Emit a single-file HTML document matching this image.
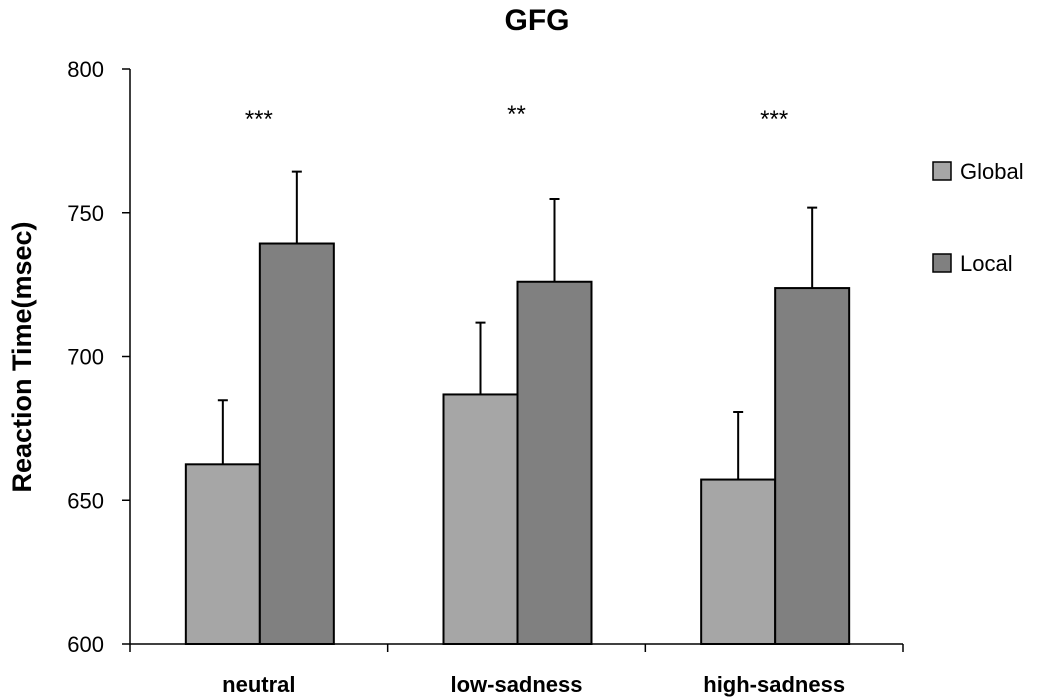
<!DOCTYPE html>
<html><head><meta charset="utf-8"><style>body{margin:0;background:#fff}svg{display:block}text{font-family:"Liberation Sans",sans-serif}</style></head>
<body>
<svg id="chart" width="1037" height="699"></svg>
<script>
const categories = ["neutral","low-sadness","high-sadness"];
const globalVals = [662.5, 686.8, 657.2];
const globalErr = [22.3, 25.0, 23.5];
const localVals = [739.3, 726.0, 723.8];
const localErr = [25.0, 28.8, 28.0];
const sig = ["***","**","***"];
const yTicks = [600,650,700,750,800];

const NS="http://www.w3.org/2000/svg";
const svg=document.getElementById('chart');
const x0=130,x1=903,yTop=69,yBot=644;
const y=v=>yBot-(v-600)/200*(yBot-yTop);
const cw=(x1-x0)/categories.length;
const cx=i=>x0+cw*(i+0.5);
function el(t,a,p){const e=document.createElementNS(NS,t);for(const k in a)e.setAttribute(k,a[k]);(p||svg).appendChild(e);return e;}

let t=el('text',{x:537,y:30,'font-size':30,'font-weight':'bold','text-anchor':'middle'});


t.textContent='GFG';
t=el('text',{x:0,y:0,'font-size':27,'font-weight':'bold','text-anchor':'middle',transform:'translate(31,357) rotate(-90)'});


t.textContent='Reaction Time(msec)';

let ax=el('line',{x1:x0,y1:yTop,x2:x0,y2:yBot,stroke:'#000','stroke-width':1.5});


ax=el('line',{x1:x0,y1:yBot,x2:x1,y2:yBot,stroke:'#000','stroke-width':1.5});


yTicks.forEach(v=>{
 el('line',{x1:x0-8,y1:y(v),x2:x0,y2:y(v),stroke:'#000','stroke-width':1.5});
 const l=el('text',{x:104,y:y(v)+8,'font-size':22,'text-anchor':'end'});
 
 
 l.textContent=v;
});
for(let i=0;i<=categories.length;i++) el('line',{x1:x0+cw*i,y1:yBot,x2:x0+cw*i,y2:yBot+8,stroke:'#000','stroke-width':1.5});

const bw=74;
categories.forEach((c,i)=>{
 const series=[[globalVals[i],globalErr[i],'#a6a6a6',cx(i)-bw+1,'bar-global'],[localVals[i],localErr[i],'#808080',cx(i)+1,'bar-local']];
 series.forEach(s=>{
  const b=el('rect',{x:s[3],y:y(s[0]),width:bw,height:yBot-y(s[0]),fill:s[2],stroke:'#000','stroke-width':2});
  
  
  const m=s[3]+bw/2;
  const e=el('path',{d:`M${m},${y(s[0])}V${y(s[0]+s[1])}M${m-5},${y(s[0]+s[1])}H${m+5}`,stroke:'#000','stroke-width':2,fill:'none'});
  
  
 });
 const l=el('text',{x:cx(i),y:692,'font-size':22,'font-weight':'bold','text-anchor':'middle'});
 
 
 l.textContent=c;
 const s=el('text',{x:cx(i),y:i==1?122:127,'font-size':24,'text-anchor':'middle'});
 
 
 s.textContent=sig[i];
});

[['Global','#a6a6a6',171],['Local','#808080',263]].forEach(d=>{
 const g=el('g',{});
 
 
 el('rect',{x:933,y:d[2]-9,width:18,height:18,fill:d[1],stroke:'#000','stroke-width':1.5},g);
 const tx=el('text',{x:960,y:d[2]+8,'font-size':22},g);
 tx.textContent=d[0];
});
</script>
</body></html>
